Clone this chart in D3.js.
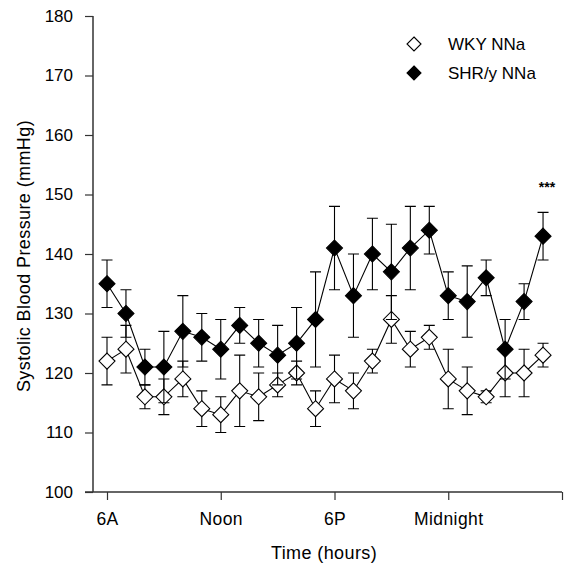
<!DOCTYPE html>
<html><head><meta charset="utf-8">
<script src="https://cdn.jsdelivr.net/npm/d3@7"></script>
<style>body{margin:0;background:#fff}svg{display:block}text{font-family:"Liberation Sans",Arial,sans-serif;fill:#000}</style>
</head><body><svg id="c" width="565" height="564"></svg>
<script>
const hours = d3.range(24);
const wkyMean = [122,124,116,116,119,114,113,117,116,118,120,114,119,117,122,129,124,126,119,117,116,120,120,123];
const wkyErr  = [4,4,2,3,3,3,3,6,4,2,2,3,4,3,2,4,3,2,5,4,1,4,4,2];
const shrMean = [135,130,121,121,127,126,124,128,125,123,125,129,141,133,140,137,141,144,133,132,136,124,132,143];
const shrErr  = [4,4,3,6,6,4,5,3,4,5,6,8,7,7,6,8,7,4,4,6,3,5,3,4];
const yTicks = [100,110,120,130,140,150,160,170,180];
const xTickHours = [0,6,12,18,24];
const xTickLabels = ["6A","Noon","6P","Midnight",""];
const seriesNames = ["WKY NNa","SHR/y NNa"];

const svg = d3.select("#c");
const x = d3.scaleLinear().domain([0,24]).range([107,562]);
const y = d3.scaleLinear().domain([100,180]).range([492,16]);
const axisColor = "#333";
const font = "'Liberation Sans',Arial,sans-serif";

// axes
const yAxis = svg.append("g").attr("transform","translate(93,0)")
  .call(d3.axisLeft(y).tickValues(yTicks).tickSize(8).tickPadding(12));
yAxis.select(".domain").attr("stroke",axisColor).attr("stroke-width",1.5).attr("d","M0,16V492");
yAxis.selectAll(".tick line").attr("stroke",axisColor).attr("stroke-width",1.2);
yAxis.selectAll("text").style("font-size","17px").style("font-family",font);

const xAxis = svg.append("g").attr("transform","translate(0,492)")
  .call(d3.axisBottom(x).tickValues(xTickHours).tickFormat((d,i)=>xTickLabels[i]).tickSize(8).tickPadding(13));
xAxis.select(".domain").attr("stroke",axisColor).attr("stroke-width",1.5).attr("d","M85,0H562");
xAxis.selectAll(".tick line").attr("stroke",axisColor).attr("stroke-width",1.2);
xAxis.selectAll("text").style("font-size","17.5px").style("letter-spacing","0.4px").style("font-family",font);

svg.append("text").attr("transform","translate(30,256) rotate(-90)").attr("text-anchor","middle")
  .style("font-size","18px").style("letter-spacing","0.4px").text("Systolic Blood Pressure (mmHg)");
svg.append("text").attr("x",324).attr("y",559).attr("text-anchor","middle")
  .style("font-size","18px").style("letter-spacing","0.4px").text("Time (hours)");

function diamondPath(r){ return `M0,${-r}L${r},0L0,${r}L${-r},0Z`; }

function drawSeries(mean, err, filled){
  const g = svg.append("g");
  hours.forEach(i=>{
    const cx = x(i), lo = y(mean[i]-err[i]), hi = y(mean[i]+err[i]);
    g.append("path").attr("d",`M${cx},${hi}V${lo}M${cx-5.5},${hi}H${cx+5.5}M${cx-5.5},${lo}H${cx+5.5}`)
      .attr("stroke","#000").attr("stroke-width",1.1).attr("fill","none");
  });
  g.append("path").datum(hours)
    .attr("d",d3.line().x(i=>x(i)).y(i=>y(mean[i])))
    .attr("fill","none").attr("stroke","#000").attr("stroke-width",1.1);
  g.selectAll("path.m").data(hours).join("path").attr("class","m")
    .attr("transform",i=>`translate(${x(i)},${y(mean[i])})`)
    .attr("d",diamondPath(8))
    .attr("fill",filled?"#000":"#fff").attr("stroke","#000").attr("stroke-width",1.1);
}
drawSeries(wkyMean, wkyErr, false);
drawSeries(shrMean, shrErr, true);

// significance marker
svg.append("text").attr("x",x(23)+4).attr("y",y(shrMean[23]+shrErr[23])-20).attr("text-anchor","middle")
  .style("font-size","14px").style("font-weight","bold").text("***");

// legend
const leg = svg.append("g");
[0,1].forEach(k=>{
  const ly = 44 + k*29;
  leg.append("path").attr("transform",`translate(414,${ly})`).attr("d",diamondPath(7))
    .attr("fill",k?"#000":"#fff").attr("stroke","#000").attr("stroke-width",1.1);
  leg.append("text").attr("x",448).attr("y",ly+6).style("font-size","17px").text(seriesNames[k]);
});
</script></body></html>
